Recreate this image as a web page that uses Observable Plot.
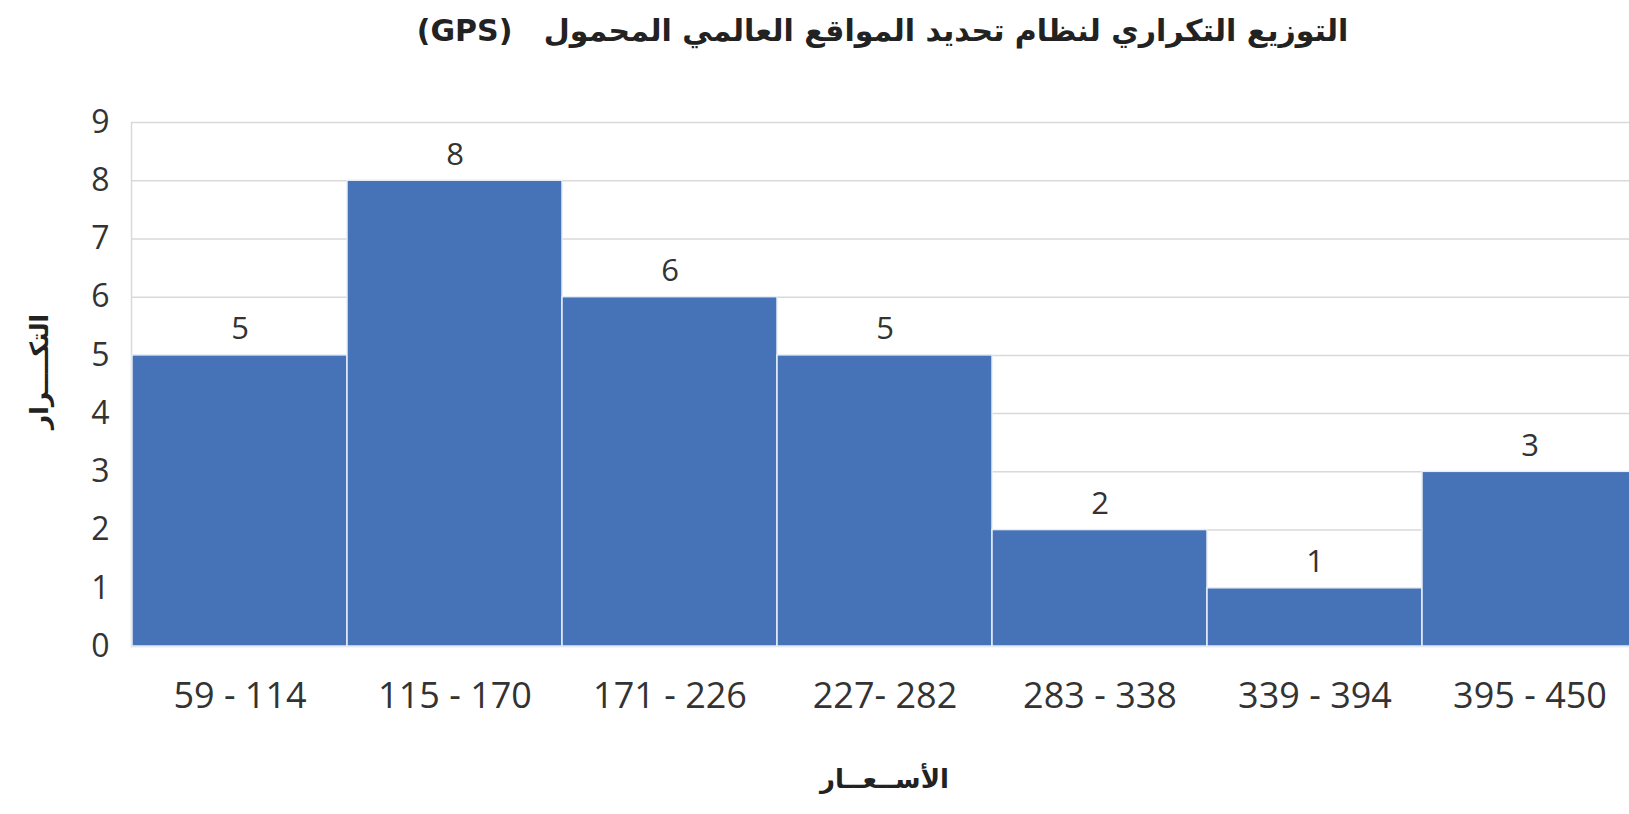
<!DOCTYPE html>
<html><head><meta charset="utf-8">
<script src="https://cdn.jsdelivr.net/npm/d3@7"></script>
<script src="https://cdn.jsdelivr.net/npm/@observablehq/plot@0.6"></script>
<style>
html,body{margin:0;padding:0;background:#fff;overflow:hidden;width:1629px;height:814px;}
#title{height:90px;box-sizing:border-box;padding-top:13px;text-align:center;font-family:"DejaVu Sans",sans-serif;font-weight:bold;font-size:30px;color:#222;padding-left:136px;white-space:nowrap;}
#chart svg{display:block;max-width:none !important;}
</style></head>
<body>
<div id="title" dir="rtl">التوزيع التكراري لنظام تحديد المواقع العالمي المحمول &nbsp;&nbsp;(GPS)</div>
<div id="chart"></div>
<script>
const categories = ["59 - 114", "115 - 170", "171 - 226", "227- 282", "283 - 338", "339 - 394", "395 - 450"];
const frequencies = [5, 8, 6, 5, 2, 1, 3];
const yTicks = [0, 1, 2, 3, 4, 5, 6, 7, 8, 9];
const xLabel = "الأســعــار";
const yLabel = "التكــــرار";

const data = categories.map((c, i) => ({range: c, freq: frequencies[i]}));

const chart = Plot.plot({
  width: 1641,
  height: 724,
  marginLeft: 131,
  marginRight: 4,
  marginTop: 32,
  marginBottom: 168,
  style: {fontFamily: "'Open Sans', sans-serif", color: "#333", background: "#fff", maxWidth: "none"},
  x: {domain: categories, padding: 0, label: null},
  y: {domain: [0, 9], label: null},
  marks: [
    Plot.ruleY(yTicks, {stroke: "#d9d9d9", strokeWidth: 1.5}),
    Plot.frame({anchor: "left", stroke: "#d9d9d9", strokeWidth: 1.5}),
    Plot.barY(data, {x: "range", y: "freq", fill: "#4672b8", stroke: "#e8eef8", strokeWidth: 1.5}),
    Plot.text(data, {x: "range", y: "freq", text: d => String(d.freq), dy: -26, fontSize: 31, fill: "#333"}),
    Plot.axisY({ticks: yTicks, tickSize: 0, tickPadding: 22, fontSize: 32, label: null}),
    Plot.axisX({tickSize: 0, tickPadding: 36, fontSize: 36, label: null}),
    Plot.text([xLabel], {frameAnchor: "bottom", textAnchor: "middle", dy: 141, dx: 0, text: d => d, fontSize: 26, fontWeight: "bold", fontFamily: "DejaVu Sans", fill: "#222"}),
    Plot.text([yLabel], {frameAnchor: "left", textAnchor: "middle", dx: -92, dy: -13, rotate: -90, text: d => d, fontSize: 25, fontWeight: "bold", fontFamily: "DejaVu Sans", fill: "#222"})
  ]
});
document.getElementById("chart").appendChild(chart);
</script>
</body></html>
